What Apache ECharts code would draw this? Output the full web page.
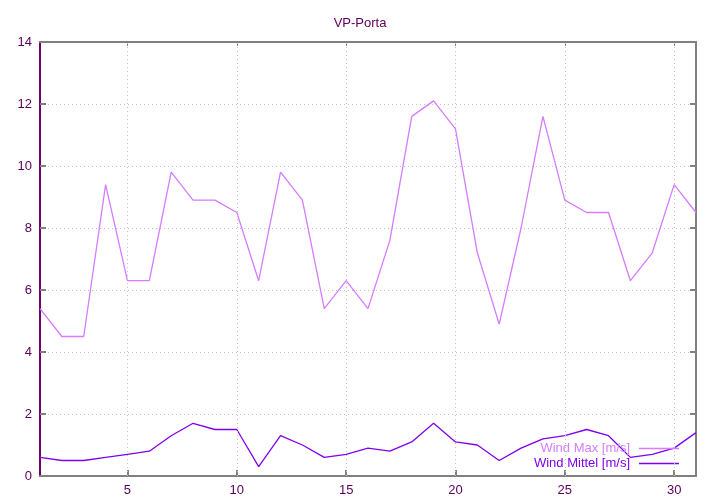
<!DOCTYPE html>
<html><head><meta charset="utf-8">
<script src="https://cdn.jsdelivr.net/npm/echarts@6/dist/echarts.min.js"></script>
<style>html,body{margin:0;padding:0;background:#fff}#c{width:720px;height:504px}</style>
</head><body><div id="c"></div>
<script>
const days = Array.from({length:31},(_,i)=>i+1);
const windMax = [5.4,4.5,4.5,9.4,6.3,6.3,9.8,8.9,8.9,8.5,6.3,9.8,8.9,5.4,6.3,5.4,7.6,11.6,12.1,11.2,7.2,4.9,8.0,11.6,8.9,8.5,8.5,6.3,7.2,9.4,8.5];
const windMittel = [0.6,0.5,0.5,0.6,0.7,0.8,1.3,1.7,1.5,1.5,0.3,1.3,1.0,0.6,0.7,0.9,0.8,1.1,1.7,1.1,1.0,0.5,0.9,1.2,1.3,1.5,1.3,0.6,0.7,0.9,1.4];
const xTicks = [5,10,15,20,25,30];
const seriesNames = ['Wind Max [m/s]','Wind Mittel [m/s]'];
const title = 'VP-Porta';

const cMax = '#d57cff', cMit = '#8000f0', txt = '#5a005a', gray = '#808080', purp = '#700070';
const font = 'Liberation Sans, Arial, sans-serif';
const chart = echarts.init(document.getElementById('c'), null, {renderer:'canvas'});
const grid = {left:40, right:24, top:42, bottom:28};
const gridLine = {color:'#c0c0c0', type:[1,3], width:1};
chart.setOption({
  animation:false,
  backgroundColor:'#fff',
  title:{text:title, left:'center', top:12, textStyle:{color:txt, fontSize:13, fontWeight:'normal', fontFamily:font}},
  grid:grid,
  legend:{
    orient:'vertical', right:36, bottom:29, align:'right', itemGap:2,
    itemWidth:40, itemHeight:1.5, icon:'rect', selectedMode:false,
    textStyle:{fontSize:13, fontFamily:font, padding:[0,4,0,0]},
    data:[{name:seriesNames[0], textStyle:{color:cMax}},{name:seriesNames[1], textStyle:{color:cMit}}]
  },
  xAxis:[{
    type:'value', min:1, max:31, position:'bottom',
    axisLine:{show:true, onZero:false, lineStyle:{color:gray, width:2}},
    axisTick:{show:true, inside:true, length:6, customValues:xTicks, lineStyle:{color:gray, width:2}},
    axisLabel:{color:txt, fontSize:13, fontFamily:font, margin:8, customValues:xTicks},
    splitLine:{show:false}
  },{
    type:'value', min:1, max:31, position:'top',
    axisLine:{show:true, onZero:false, lineStyle:{color:gray, width:2}},
    axisTick:{show:true, inside:true, length:4, customValues:xTicks, lineStyle:{color:gray, width:1}},
    axisLabel:{show:false}, splitLine:{show:false}
  }],
  yAxis:[{
    type:'value', min:0, max:14, interval:2, position:'left',
    axisLine:{show:true, lineStyle:{color:purp, width:2}},
    axisTick:{show:true, inside:true, length:6, lineStyle:{color:gray, width:2}},
    axisLabel:{color:txt, fontSize:13, fontFamily:font, margin:8},
    splitLine:{show:true, lineStyle:gridLine}
  },{
    type:'value', min:0, max:14, interval:2, position:'right',
    axisLine:{show:true, lineStyle:{color:gray, width:2}},
    axisTick:{show:true, inside:true, length:6, lineStyle:{color:gray, width:2}},
    axisLabel:{show:false}, splitLine:{show:false}
  }],
  series:[
    {name:seriesNames[0], type:'line', data:days.map((d,i)=>[d,windMax[i]]), showSymbol:false, symbol:'none', lineStyle:{color:cMax, width:1.3}, itemStyle:{color:cMax},
     markLine:{silent:true, symbol:'none', label:{show:false}, lineStyle:gridLine, emphasis:{disabled:true}, data:xTicks.map(v=>({xAxis:v}))}, z:3},
    {name:seriesNames[1], type:'line', data:days.map((d,i)=>[d,windMittel[i]]), showSymbol:false, symbol:'none', lineStyle:{color:cMit, width:1.3}, itemStyle:{color:cMit}, z:3}
  ]
});
</script></body></html>
